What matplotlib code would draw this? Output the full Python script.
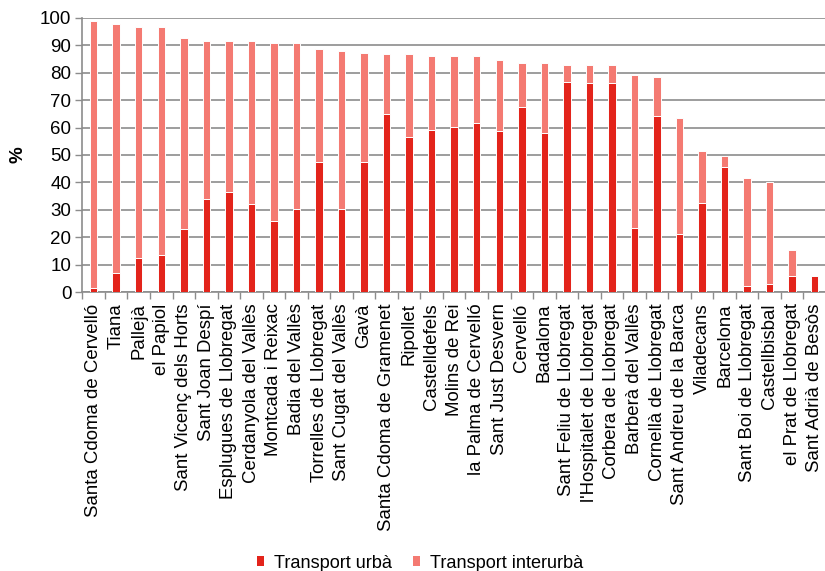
import matplotlib
matplotlib.use("Agg")
import matplotlib.pyplot as plt
from matplotlib.patches import Patch
import numpy as np

plt.rcParams['font.family'] = ['Liberation Sans', 'DejaVu Sans']

municipis = [
    "Santa Cdoma de Cervelló", "Tiana", "Pallejà", "el Papiol",
    "Sant Vicenç dels Horts", "Sant Joan Despí", "Esplugues de Llobregat",
    "Cerdanyola del Vallès", "Montcada i Reixac", "Badia del Vallès",
    "Torrelles de Llobregat", "Sant Cugat del Vallès", "Gavà",
    "Santa Cdoma de Gramenet", "Ripollet", "Castelldefels", "Molins de Rei",
    "la Palma de Cervelló", "Sant Just Desvern", "Cervelló", "Badalona",
    "Sant Feliu de Llobregat", "l'Hospitalet de Llobregat",
    "Corbera de Llobregat", "Barberà del Vallès", "Cornellà de Llobregat",
    "Sant Andreu de la Barca", "Viladecans", "Barcelona",
    "Sant Boi de Llobregat", "Castellbisbal", "el Prat de Llobregat",
    "Sant Adrià de Besòs",
]

# share of trips (%) by urban transport
urba = [1.5, 7.1, 12.4, 13.5, 23.0, 34.0, 36.6, 32.2, 26.1, 30.3,
        47.3, 30.3, 47.3, 64.8, 56.7, 59.1, 60.3, 61.5, 58.6, 67.4,
        58.1, 76.7, 76.1, 76.1, 23.5, 64.2, 21.2, 32.4, 45.5, 2.4,
        3.1, 5.8, 5.9]

# cumulative total (%) urban + interurban
total = [98.9, 97.7, 96.5, 96.5, 92.7, 91.5, 91.5, 91.5, 90.8, 90.9,
         88.5, 87.9, 87.3, 86.7, 86.7, 86.1, 86.1, 86.1, 84.6, 83.4,
         83.4, 82.8, 82.8, 82.8, 79.1, 78.4, 63.4, 51.6, 49.8, 41.5,
         40.3, 15.3, 5.9]

interurba = [t - u for t, u in zip(total, urba)]

c_urba = "#E3241B"
c_inter = "#F47A72"

fig = plt.figure(figsize=(8.25, 5.71), dpi=100)
ax = fig.add_axes([82.4 / 825, 1 - 292.3 / 571, (826 - 82.4) / 825, (292.3 - 17.7) / 571])

x = np.arange(len(municipis))
w = 0.33
ax.bar(x, urba, width=w, color=c_urba, edgecolor="white", linewidth=0.7, zorder=3)
ax.bar(x, interurba, width=w, bottom=urba, color=c_inter, edgecolor="white",
       linewidth=0.7, zorder=3)

ax.set_xlim(-0.5, len(municipis) - 0.5)
ax.set_ylim(0, 100)
ax.set_yticks(range(0, 101, 10))
ax.tick_params(axis="y", labelsize=13.5, length=5, color="#8c8c8c", width=1, pad=3)
ax.yaxis.grid(True, color="#8c8c8c", linewidth=1.2, zorder=0)
ax.set_axisbelow(True)

ax.set_xticks(x)
ax.set_xticklabels(municipis, rotation=90, fontsize=13.4, va="top", ha="center")
ax.tick_params(axis="x", which="major", length=0, pad=8)
ax.set_xticks(np.arange(-0.5, len(municipis), 1), minor=True)
ax.tick_params(axis="x", which="minor", length=5, color="#8c8c8c", width=1)

for side in ("top", "right"):
    ax.spines[side].set_visible(False)
for side in ("left", "bottom"):
    ax.spines[side].set_color("#8c8c8c")
    ax.spines[side].set_linewidth(1.2)

ax.set_ylabel("%", fontsize=13.5, fontweight="bold", labelpad=10)

handles = [Patch(facecolor=c_urba, label="Transport urbà"),
           Patch(facecolor=c_inter, label="Transport interurbà")]
fig.legend(handles=handles, loc="center", bbox_to_anchor=(420 / 825, 8 / 571),
           ncol=2, frameon=False, fontsize=13.1, handlelength=0.4, handleheight=0.4,
           handletextpad=0.55, columnspacing=1.15, borderpad=0)

fig.savefig("out.png", dpi=100)
